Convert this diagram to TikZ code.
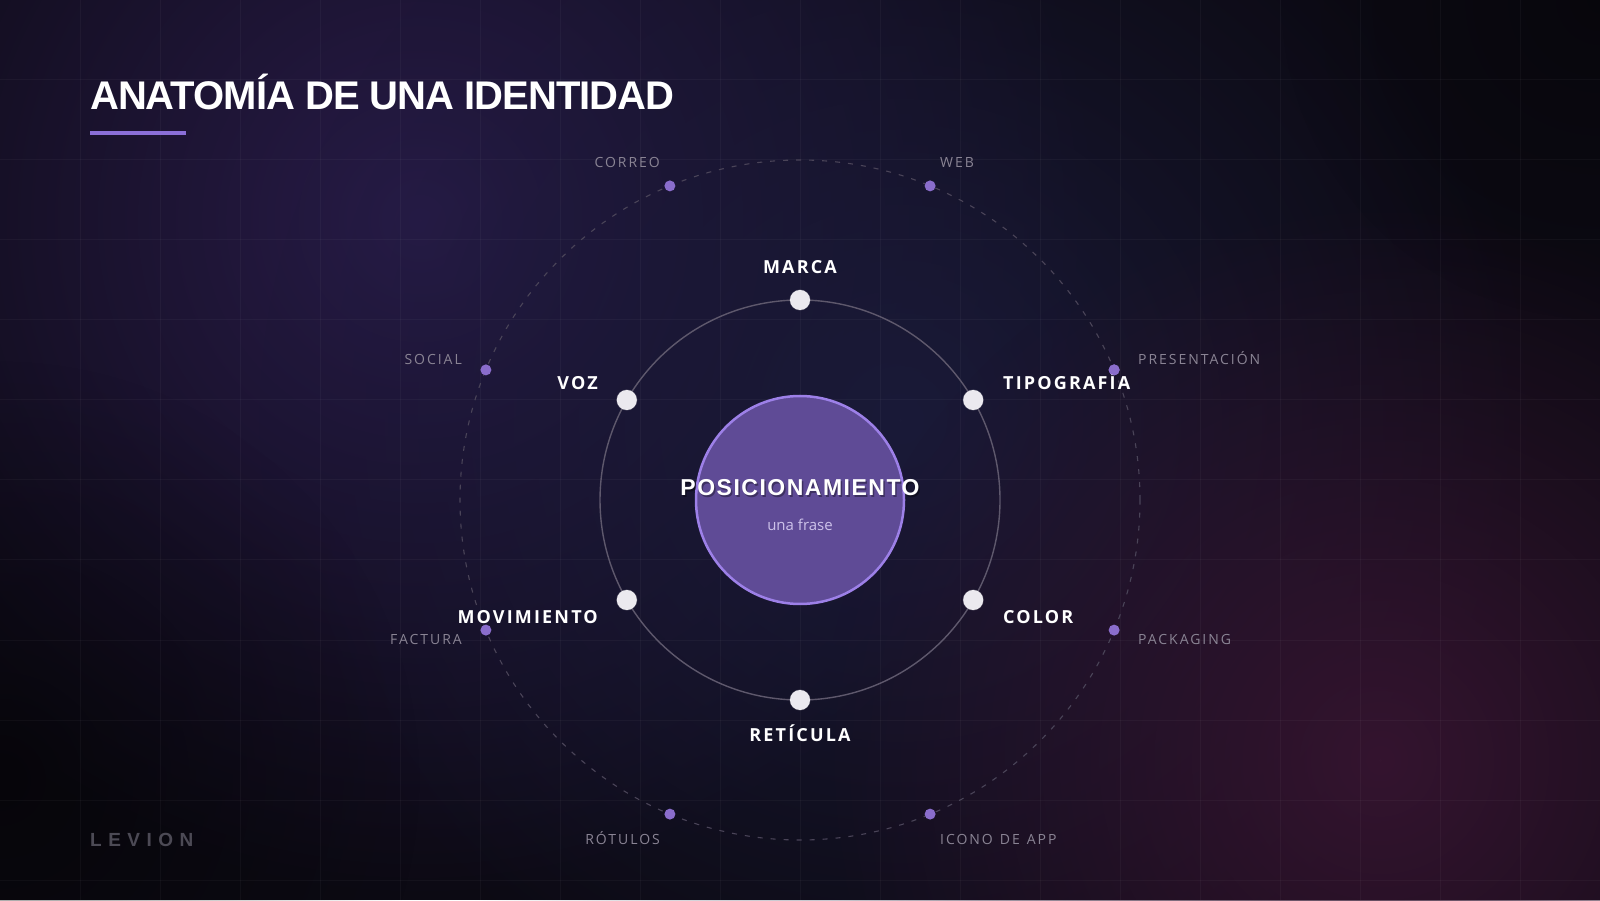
\documentclass[tikz,border=0pt]{standalone}
\usepackage{fontspec}
\setmainfont{Open Sans}
\newfontfamily\titlefont[LetterSpace=-2.5]{Liberation Sans}
\newfontfamily\posfont[LetterSpace=6.5]{Liberation Sans}
\newfontfamily\brandfont[LetterSpace=34]{Liberation Sans}
\newfontfamily\mainlbl[LetterSpace=12]{Open Sans}
\newfontfamily\sublbl[LetterSpace=14]{Open Sans}
\usetikzlibrary{fadings}
\definecolor{bgbase}{HTML}{0C0A13}
\definecolor{glowpurple}{HTML}{281B48}
\definecolor{glownavy}{HTML}{1A1A38}
\definecolor{glowred}{HTML}{34142F}
\definecolor{accent}{HTML}{8B6FD8}
\definecolor{dotpurple}{HTML}{8A6DCC}
\definecolor{corefill}{HTML}{5F4B96}
\definecolor{coreline}{HTML}{9D80E8}
\definecolor{ringgray}{HTML}{5E586C}
\definecolor{dashgray}{HTML}{4A4458}
\definecolor{nodewhite}{HTML}{EBE9EF}
\definecolor{sublabel}{HTML}{8A8494}
\definecolor{phrase}{HTML}{CDC2EA}
\definecolor{brandgray}{HTML}{4C4A55}
\tikzfading[name=glowfade, inner color=transparent!0, outer color=transparent!100]
\tikzset{
  hub/.style={circle, fill=nodewhite, draw=white, draw opacity=0.25, line width=1pt, inner sep=0pt, minimum size=20pt},
  satdot/.style={circle, fill=dotpurple, inner sep=0pt, minimum size=11pt},
  mainlabel/.style={text=white, inner sep=0pt, font=\mainlbl\bfseries\fontsize{18}{22}\selectfont},
  sublabeltext/.style={text=sublabel, inner sep=0pt, font=\sublbl\fontsize{14}{17}\selectfont},
}
\begin{document}
\begin{tikzpicture}[x=1pt,y=1pt]
\useasboundingbox (0,0) rectangle (1600,900);
% background
\fill[bgbase] (0,0) rectangle (1600,900);
\begin{scope}
\clip (0,0) rectangle (1600,900);
\fill[glowpurple, path fading=glowfade] (420,680) circle (680);
\fill[glownavy, path fading=glowfade] (900,480) circle (640);
\fill[glowred, path fading=glowfade] (1380,140) circle (560);
\fill[black, opacity=0.35, path fading=glowfade] (1600,900) circle (320);
\fill[black, opacity=0.45, path fading=glowfade] (0,120) circle (420);
\foreach \gx in {80,160,...,1520} \draw[white, opacity=0.035, line width=1pt] (\gx,0) -- (\gx,900);
\foreach \gy in {20,100,...,900} \draw[white, opacity=0.035, line width=1pt] (0,\gy) -- (1600,\gy);
\end{scope}

% title
\node[anchor=base west, inner sep=0pt, text=white, font=\titlefont\bfseries\fontsize{40}{46}\selectfont] (title) at (90,790) {ANATOMÍA DE UNA IDENTIDAD};
\fill[accent] (90,765) rectangle (186,769);

% rings
\coordinate (c) at (800,400);
\draw[dashgray, line width=1.1pt, dash pattern=on 5pt off 8pt] (c) circle (340);
\draw[ringgray, line width=1.4pt] (c) circle (200);

% core
\node[circle, fill=corefill, draw=coreline, line width=2.5pt, minimum size=208pt, inner sep=0pt] (core) at (c) {};
\node[anchor=base, inner sep=0pt, text=black, opacity=0.35, font=\posfont\bfseries\fontsize{23}{28}\selectfont] at (801.5,402.5) {POSICIONAMIENTO};
\node[anchor=base, inner sep=0pt, text=white, font=\posfont\bfseries\fontsize{23}{28}\selectfont] (pos) at (800,404) {POSICIONAMIENTO};
\node[anchor=base, inner sep=0pt, text=phrase, font=\fontsize{15}{18}\selectfont] (phr) at (800,369) {una frase};

% hubs and satellites
\begin{scope}[shift={(800,400)}]
\node[hub] (marca) at (90:200) {};
\node[hub] (tipo) at (30:200) {};
\node[hub] (color) at (-30:200) {};
\node[hub] (ret) at (-90:200) {};
\node[hub] (mov) at (210:200) {};
\node[hub] (voz) at (150:200) {};
\node[satdot] (web) at (67.5:340) {};
\node[satdot] (correo) at (112.5:340) {};
\node[satdot] (social) at (157.5:340) {};
\node[satdot] (factura) at (202.5:340) {};
\node[satdot] (rotulos) at (247.5:340) {};
\node[satdot] (icono) at (292.5:340) {};
\node[satdot] (packaging) at (337.5:340) {};
\node[satdot] (present) at (22.5:340) {};
\end{scope}

% inner labels
\node[mainlabel, anchor=base] (lmarca) at (800,626.5) {MARCA};
\node[mainlabel, anchor=base west] (ltipo) at (1003,510) {TIPOGRAFÍA};
\node[mainlabel, anchor=base west] (lcolor) at (1003,276.5) {COLOR};
\node[mainlabel, anchor=base] (lret) at (800,159) {RETÍCULA};
\node[mainlabel, anchor=base east] (lmov) at (598,276.5) {MOVIMIENTO};
\node[mainlabel, anchor=base east] (lvoz) at (598,510) {VOZ};

% the satellite dot lies over the label in the reference
\node[satdot] at (present) {};

% outer labels
\node[sublabeltext, anchor=base east] (lcorreo) at (660,732.5) {CORREO};
\node[sublabeltext, anchor=base west] (lweb) at (940,732.5) {WEB};
\node[sublabeltext, anchor=base east] (lsocial) at (462,535) {SOCIAL};
\node[sublabeltext, anchor=base west] (lpresent) at (1138,535) {PRESENTACIÓN};
\node[sublabeltext, anchor=base east] (lfactura) at (462,255) {FACTURA};
\node[sublabeltext, anchor=base west] (lpack) at (1138,255) {PACKAGING};
\node[sublabeltext, anchor=base east] (lrot) at (660,56) {RÓTULOS};
\node[sublabeltext, anchor=base west, execute at begin node={\spaceskip=7pt}] (licono) at (940,56) {ICONO DE APP};

% brand
\node[anchor=base west, inner sep=0pt, text=brandgray, font=\brandfont\bfseries\fontsize{19}{23}\selectfont] (brand) at (90,54) {LEVION};
\end{tikzpicture}
\end{document}
